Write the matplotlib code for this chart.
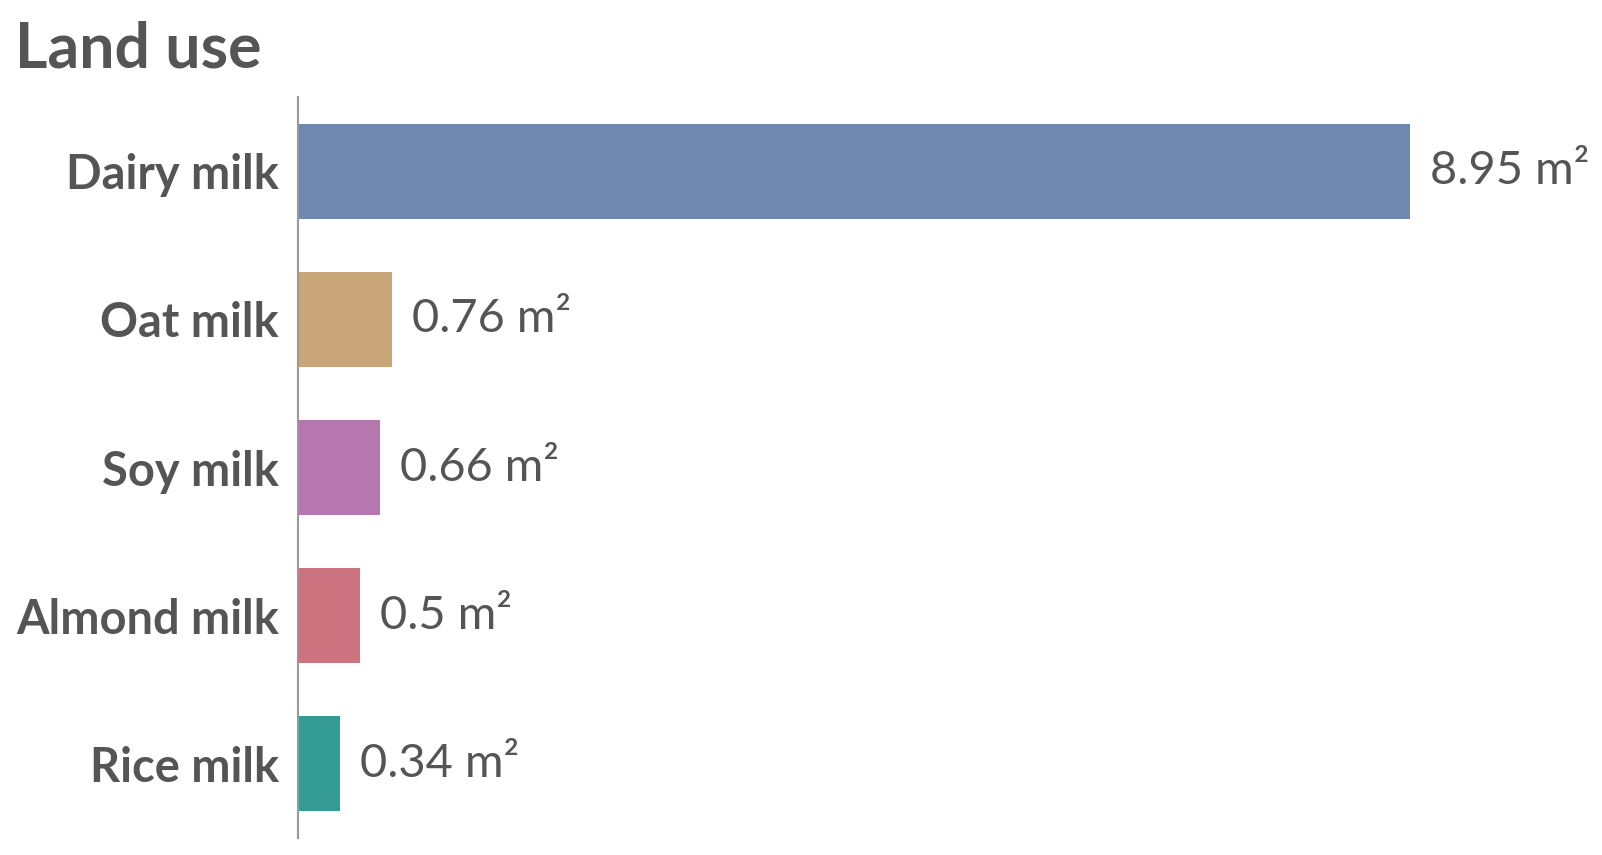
import matplotlib
matplotlib.use("Agg")
import matplotlib.pyplot as plt

categories = ["Dairy milk", "Oat milk", "Soy milk", "Almond milk", "Rice milk"]
values = [8.95, 0.76, 0.66, 0.5, 0.34]
value_labels = ["8.95 m²", "0.76 m²", "0.66 m²", "0.5 m²", "0.34 m²"]
colors = ["#6f88b0", "#c8a67a", "#b676ae", "#cd7380", "#359c95"]
title = "Land use"

text_color = "#555555"
plt.rcParams['font.family'] = ['Lato', 'DejaVu Sans']

fig = plt.figure(figsize=(16.02, 8.55), dpi=100)
ax = fig.add_axes([297.7 / 1602, (855 - 838) / 855, (1540.7 - 297.7) / 1602, (838 - 97) / 855])

ypos = list(range(len(categories)))
ax.barh(ypos, values, height=0.64, color=colors)
ax.set_xlim(0, 10)
ax.set_ylim(4.5, -0.5)
ax.set_yticks(ypos)
ax.set_yticklabels(categories, fontsize=33.8, fontweight='bold', color=text_color)
ax.tick_params(axis='y', length=0, pad=13.5)
ax.set_xticks([])
for s in ["top", "right", "bottom"]:
    ax.spines[s].set_visible(False)
ax.spines["left"].set_color("#999999")
ax.spines["left"].set_linewidth(1.5)

for y, v, lab in zip(ypos, values, value_labels):
    ax.annotate(lab, xy=(v, y), xytext=(14.5, 0), textcoords='offset points',
                va='center', ha='left', fontsize=33.8, color=text_color)

fig.text(15 / 1602, 1 - 67 / 855, title, fontsize=45, fontweight='bold',
         color=text_color, va='baseline', ha='left')

fig.savefig("out.png", dpi=100)
